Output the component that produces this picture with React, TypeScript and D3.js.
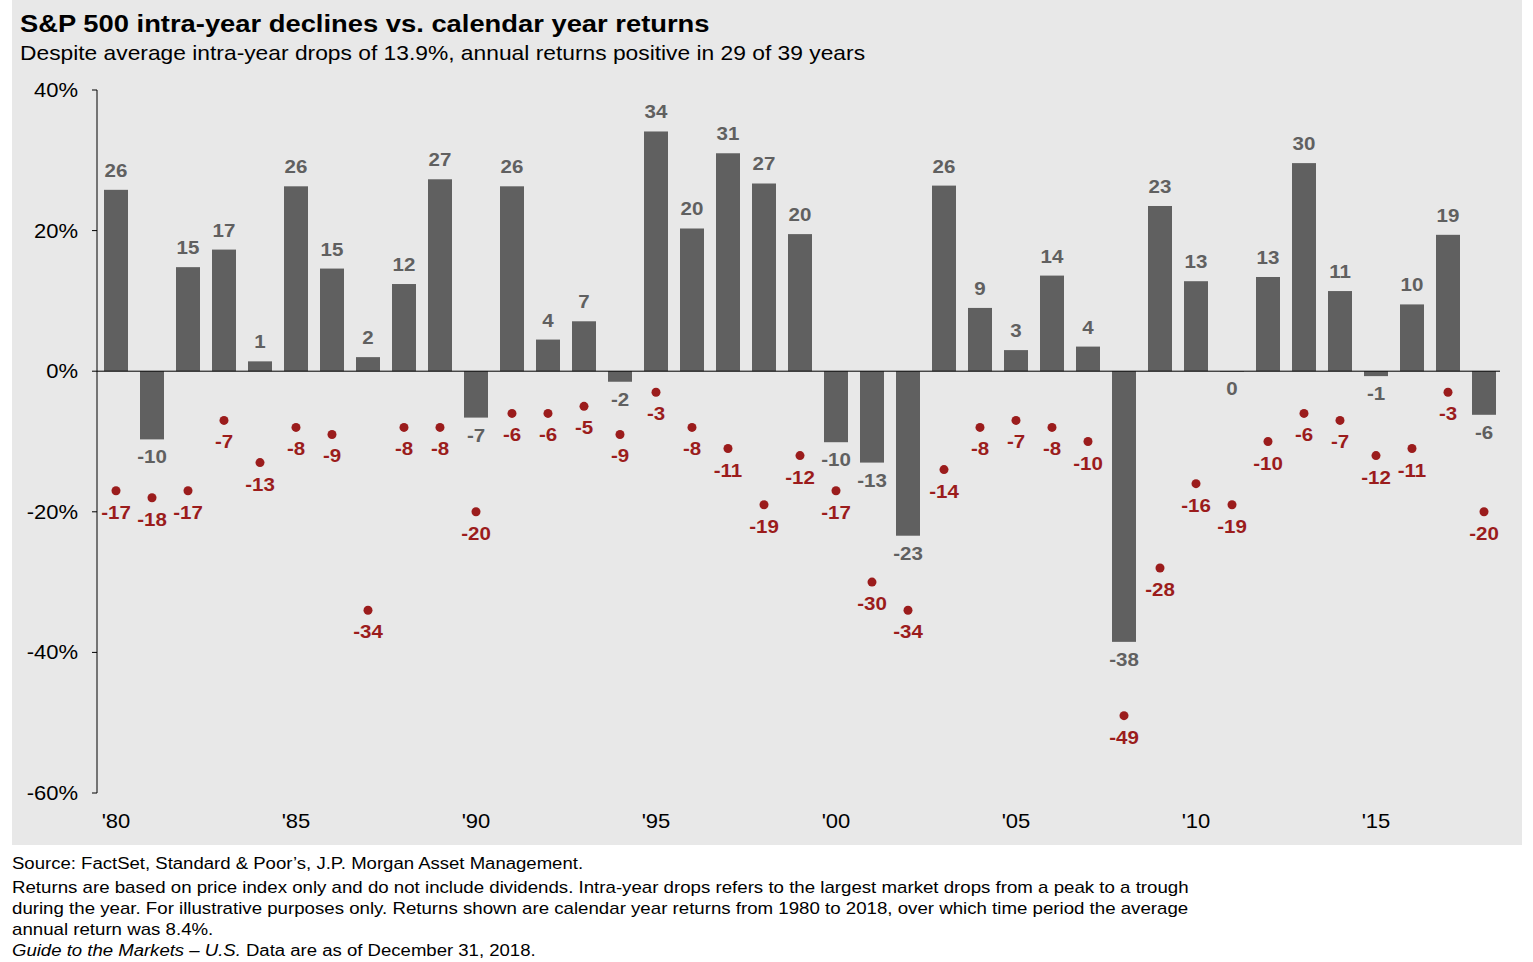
import * as d3 from 'd3';

const years = d3.range(1980, 2019);
const returns = [25.8, -9.7, 14.8, 17.3, 1.4, 26.3, 14.6, 2.0, 12.4, 27.3, -6.6, 26.3, 4.5, 7.1, -1.5, 34.1, 20.3, 31.0, 26.7, 19.5, -10.1, -13.0, -23.4, 26.4, 9.0, 3.0, 13.6, 3.5, -38.5, 23.5, 12.8, 0.0, 13.4, 29.6, 11.4, -0.7, 9.5, 19.4, -6.2];
const returnLabels = [26, -10, 15, 17, 1, 26, 15, 2, 12, 27, -7, 26, 4, 7, -2, 34, 20, 31, 27, 20, -10, -13, -23, 26, 9, 3, 14, 4, -38, 23, 13, 0, 13, 30, 11, -1, 10, 19, -6];
const drops = [-17, -18, -17, -7, -13, -8, -9, -34, -8, -8, -20, -6, -6, -5, -9, -3, -8, -11, -19, -12, -17, -30, -34, -14, -8, -7, -8, -10, -49, -28, -16, -19, -10, -6, -7, -12, -11, -3, -20];
const yTicks = [40, 20, 0, -20, -40, -60];
const xTickYears = [1980, 1985, 1990, 1995, 2000, 2005, 2010, 2015];

const F = 'Arial, "Liberation Sans", sans-serif';

function Wide({ x, y, s = 1.16, children, ...rest }: any) {
  return (
    <text transform={`translate(${x},${y}) scale(${s},1)`} {...rest}>{children}</text>
  );
}

export default function App() {
  const x = d3.scaleLinear().domain([1980, 2018]).range([116, 1484]);
  const y = d3.scaleLinear().domain([-60, 40]).range([793, 90]);
  const bw = 24;
  return (
    <svg width={1533} height={962} style={{ position: 'absolute', left: 0, top: 0 }} fontFamily={F}>
      <rect x={12} y={0} width={1510} height={845} fill="#e8e8e8" />
      <Wide x={20} y={32} s={1.14} fontSize={24} fontWeight="bold">S&amp;P 500 intra-year declines vs. calendar year returns</Wide>
      <Wide x={20} y={60} s={1.14} fontSize={20}>Despite average intra-year drops of 13.9%, annual returns positive in 29 of 39 years</Wide>
      <line x1={97} x2={97} y1={90} y2={793} stroke="#000" />
      {yTicks.map(t => (
        <g key={t}>
          <line x1={92} x2={97} y1={y(t)} y2={y(t)} stroke="#000" />
          <Wide x={78} y={y(t) + 7} s={1.1} fontSize={20} textAnchor="end">{t}%</Wide>
        </g>
      ))}
      {years.map((yr, i) => {
        const v = returns[i];
        const top = y(Math.max(0, v)), bot = y(Math.min(0, v));
        return (
          <g key={yr}>
            <rect x={x(yr) - bw / 2} y={top} width={bw} height={Math.max(bot - top, 0.5)} fill="#606060" />
            <Wide x={x(yr)} y={v > 0 ? top - 13 : bot + 24} s={1.08} fontSize={19} fontWeight="bold" fill="#606060" textAnchor="middle">{returnLabels[i]}</Wide>
            <circle cx={x(yr)} cy={y(drops[i])} r={4.5} fill="#9b1c1c" />
            <Wide x={x(yr)} y={y(drops[i]) + 28} s={1.08} fontSize={19} fontWeight="bold" fill="#9b1c1c" textAnchor="middle">{drops[i]}</Wide>
          </g>
        );
      })}
      <line x1={97} x2={1500} y1={y(0)} y2={y(0)} stroke="#000" />
      {xTickYears.map(yr => (
        <Wide key={yr} x={x(yr)} y={828} s={1.1} fontSize={20} textAnchor="middle">'{String(yr).slice(2)}</Wide>
      ))}
      <g fontSize={16}>
        <Wide x={12} y={869} s={1.16}>Source: FactSet, Standard &amp; Poor’s, J.P. Morgan Asset  Management.</Wide>
        <Wide x={12} y={893} s={1.168}>Returns are based on price index only and do not include dividends. Intra-year drops refers to the largest market drops from a peak to a trough</Wide>
        <Wide x={12} y={914} s={1.168}>during the year. For illustrative purposes only. Returns shown are calendar year returns from 1980 to 2018, over which time period the average</Wide>
        <Wide x={12} y={935} s={1.168}>annual return was 8.4%.</Wide>
        <Wide x={12} y={956} s={1.16}><tspan fontStyle="italic">Guide to the Markets – U.S.</tspan> Data are as of December 31,  2018.</Wide>
      </g>
    </svg>
  );
}
